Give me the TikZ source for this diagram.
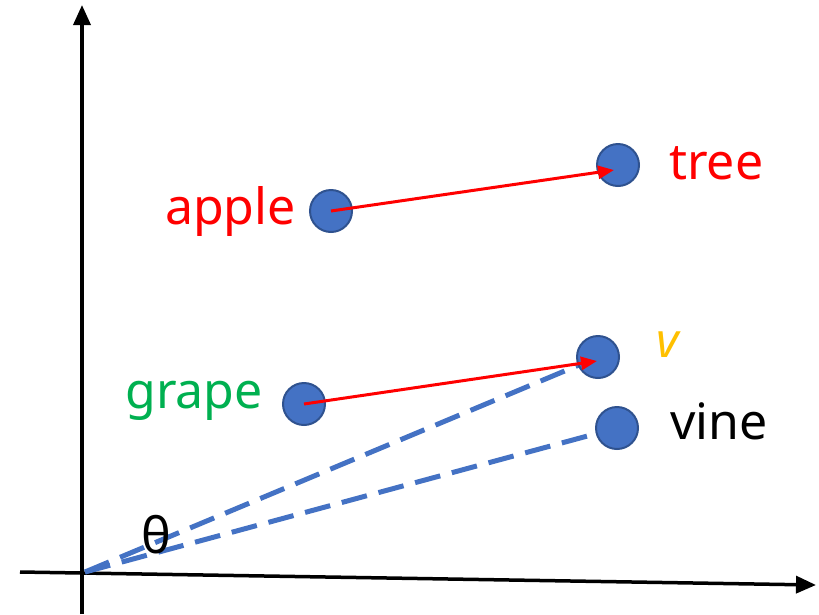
\documentclass[tikz,border=0pt]{standalone}
\usepackage{fontspec}
\setmainfont{Noto Sans}
\usetikzlibrary{arrows.meta}
\definecolor{dotblue}{HTML}{4472C4}
\definecolor{dotedge}{HTML}{2F528F}
\definecolor{vgold}{HTML}{FFC000}
\definecolor{grapegreen}{HTML}{00B050}
\tikzset{
  dot/.style={circle, fill=dotblue, draw=dotedge, line width=2pt, minimum size=42pt, inner sep=0pt},
  lbl/.style={font=\fontsize{50}{60}\selectfont, inner sep=0pt},
  axis/.style={line width=3.5pt, -{Triangle[length=20pt,width=17pt]}},
  offset/.style={red, line width=3pt, -{Triangle[length=16pt,width=13pt]}},
  proj/.style={dotblue, line width=5pt, dash pattern=on 26pt off 12pt}
}
\begin{document}
\begin{tikzpicture}[x=1pt,y=-1pt]
\useasboundingbox (0,0) rectangle (819,614);
% axes
\coordinate (o) at (85,572);
\coordinate (xs) at (20,572);
\coordinate (xe) at (816,585);
\coordinate (ys) at (82,614);
\coordinate (ye) at (82,5);
\draw[axis] (xs) -- (xe);
\draw[axis] (ys) -- (ye);
% points
\coordinate (cv) at (598,357);
\coordinate (cvine) at (617,428);
\draw[proj] (o) -- (cv);
\draw[proj] (o) -- (cvine);
\node[dot] (apple) at (331,211) {};
\node[dot] (tree) at (618,165) {};
\node[dot] (grape) at (304,404) {};
\node[dot] (v) at (cv) {};
\node[dot] (vine) at (cvine) {};
\draw[offset] (apple.center) -- (614,170);
\draw[offset] (grape.center) -- (597,361);
% labels
\node[lbl, red, anchor=east] (tapple) at (296,211) {apple};
\node[lbl, red, anchor=west] (ttree) at (669,163) {tree};
\node[lbl, grapegreen, anchor=east] (tgrape) at (263,401) {grape};
\node[lbl, vgold, anchor=west, font=\fontsize{48}{58}\selectfont\itshape] (tv) at (656,345) {v};
\node[lbl, anchor=west] (tvine) at (670,421) {vine};
\node[lbl] (theta) at (156,535) {θ};
\end{tikzpicture}
\end{document}
